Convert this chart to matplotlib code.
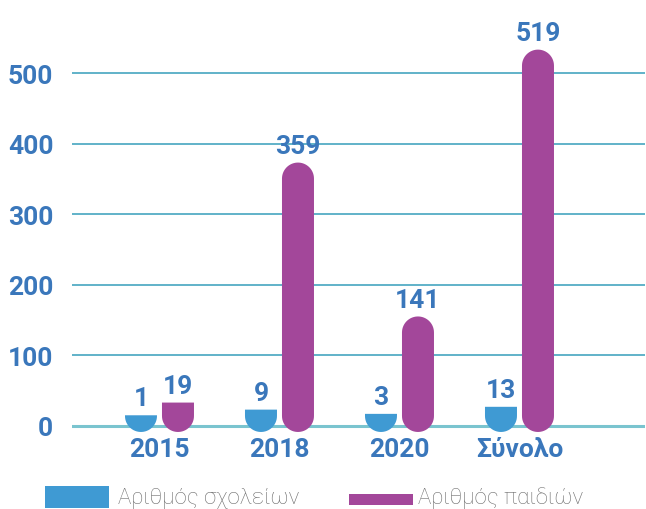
import numpy as np
import matplotlib
matplotlib.use("Agg")
import matplotlib.pyplot as plt
from matplotlib import font_manager
from matplotlib.patches import Polygon, Rectangle

# data
categories = ["2015", "2018", "2020", "Σύνολο"]
schools = [1, 9, 3, 13]
children = [19, 359, 141, 519]
series_names = ["Αριθμός σχολείων", "Αριθμός παιδιών"]
yticks = [0, 100, 200, 300, 400, 500]

BLUE = "#3f9ad3"
PURPLE = "#a3479a"
LABEL = "#3a77bb"
GRID = "#45a6c0"


def pick_font(names):
    for n in names:
        try:
            font_manager.findfont(n, fallback_to_default=False)
            return n
        except Exception:
            pass
    return "DejaVu Sans"


bold_font = pick_font(["Liberation Sans Narrow", "Roboto", "DejaVu Sans"])
light_font = pick_font(["Roboto", "Open Sans", "DejaVu Sans"])

fig = plt.figure(figsize=(6.46, 5.10), dpi=100)
ax = fig.add_axes([72 / 646, 1 - 441.1 / 510, (645 - 72) / 646, 430.6 / 510])
ax.set_xlim(-0.729, 4.046)
ax.set_ylim(-20, 590)

# pixel -> data scale factors
px_x = (4.046 + 0.729) / (645 - 72)
px_y = 610 / 430.6
bar_w = 32 * px_x
off = 18.5 * px_x
rx = bar_w / 2
ry = 16 * px_y
lift = 10 * px_y  # bottom cap centre sits a little above the baseline


def rounded_bar(xc, v, round_top, color):
    top = v + lift
    t = np.linspace(np.pi, 2 * np.pi, 30)
    bottom = np.column_stack([xc + rx * np.cos(t), lift + ry * np.sin(t)])
    if round_top:
        t2 = np.linspace(0, np.pi, 30)
        upper = np.column_stack([xc + rx * np.cos(t2), top - ry + ry * np.sin(t2)])
    else:
        upper = np.array([[xc + rx, top], [xc - rx, top]])
    pts = np.vstack([bottom, upper])
    ax.add_patch(Polygon(pts, closed=True, facecolor=color, edgecolor="none", zorder=3))
    return top


for y in yticks[1:]:
    ax.axhline(y, color=GRID, lw=1.2, zorder=1)
ax.axhline(0, color="#7ac4cf", lw=2.2, zorder=1)

x = np.arange(len(categories))
for i in range(len(categories)):
    for vals, sign, col in [(schools, -1, BLUE), (children, 1, PURPLE)]:
        v = vals[i]
        xc = x[i] + sign * off
        top = rounded_bar(xc, v, v > 50, col)
        ax.annotate(str(v), (xc, top), xytext=(0, 3.5),
                    textcoords="offset points", ha="center", va="bottom",
                    color=LABEL, fontsize=19, fontweight="bold",
                    family=bold_font, zorder=4)

for s in ax.spines.values():
    s.set_visible(False)
ax.set_yticks(yticks)
ax.set_xticks(x)
ax.set_xticklabels(categories)
ax.tick_params(axis="both", length=0, labelcolor=LABEL, labelsize=19)
ax.tick_params(axis="y", pad=13.5)
ax.tick_params(axis="x", pad=-2.5)
for lab in ax.get_xticklabels() + ax.get_yticklabels():
    lab.set_fontweight("bold")
    lab.set_family(bold_font)

# legend
fig.add_artist(Rectangle((45 / 646, 1 - 509 / 510), 64 / 646, 22 / 510,
                         transform=fig.transFigure, facecolor=BLUE, edgecolor="none"))
fig.add_artist(Rectangle((349 / 646, 1 - 506 / 510), 64 / 646, 11 / 510,
                         transform=fig.transFigure, facecolor=PURPLE, edgecolor="none"))
fig.text(118 / 646, 1 - 504 / 510, series_names[0], ha="left", va="baseline",
         fontsize=16, fontweight="light", family=light_font, color="#6e6e6e")
fig.text(418 / 646, 1 - 504 / 510, series_names[1], ha="left", va="baseline",
         fontsize=16, fontweight="light", family=light_font, color="#6e6e6e")

fig.savefig("out.png", dpi=100)
